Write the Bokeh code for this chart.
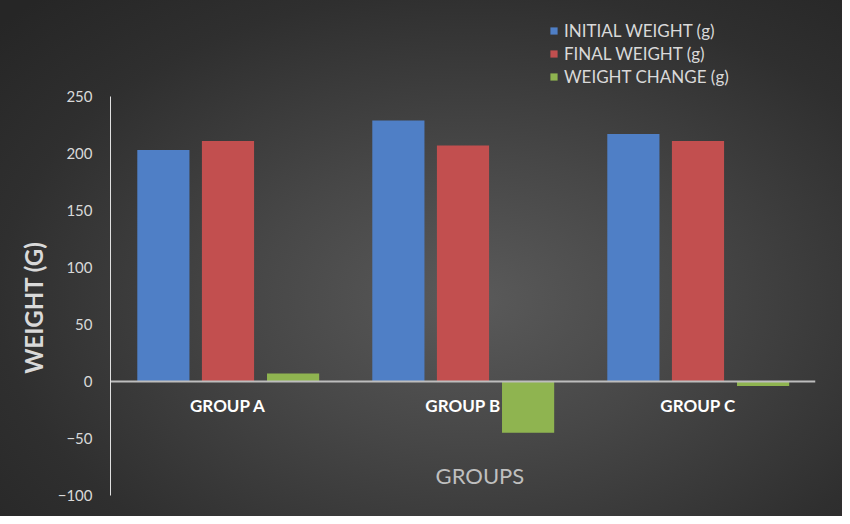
from bokeh.plotting import figure
from bokeh.models import ColumnDataSource, Range1d, FixedTicker, FactorRange, Legend
from bokeh.layouts import column
from bokeh.transform import dodge
from bokeh.embed import file_html
from bokeh.resources import INLINE

groups = ["GROUP A", "GROUP B", "GROUP C"]
initial_weight = [203, 229, 217]
final_weight = [211, 207, 211]
weight_change = [7, -45, -4]
y_ticks = [-100, -50, 0, 50, 100, 150, 200, 250]
series_names = ["INITIAL WEIGHT (g)", "FINAL WEIGHT (g)", "WEIGHT CHANGE (g)"]
series_cols = ["initial", "final", "change"]
series_colors = ["#4f7fc6", "#c24f4f", "#8fb450"]
offsets = [-0.275, 0.0, 0.277]

src = ColumnDataSource(dict(groups=groups, initial=initial_weight,
                            final=final_weight, change=weight_change))

NB = "\u00a0"

# main chart
p = figure(x_range=FactorRange(*groups, range_padding=0), y_range=Range1d(-100, 250),
           width=842, height=429, output_backend="svg", toolbar_location=None,
           min_border_left=110, min_border_right=27, min_border_top=9, min_border_bottom=21,
           background_fill_color=None, border_fill_color=None, outline_line_color=None)

w = 0.222
for col, colr, off in zip(series_cols, series_colors, offsets):
    p.vbar(x=dodge("groups", off, range=p.x_range), top=col, width=w, source=src,
           fill_color=colr, line_color=None)

p.grid.visible = False

ya = p.yaxis[0]
ya.ticker = FixedTicker(ticks=y_ticks)
ya.axis_line_color = "#e0e0e0"
ya.axis_line_width = 1
ya.major_tick_line_color = None
ya.minor_tick_line_color = None
ya.major_tick_out = 0
ya.minor_tick_out = 0
ya.major_label_standoff = 18
ya.major_label_text_font = "Lato"
ya.major_label_text_font_size = "15px"
ya.major_label_text_color = "#d9d9d9"
ya.axis_label = "WEIGHT (G)" + NB * 4
ya.axis_label_text_font = "Lato"
ya.axis_label_text_font_style = "bold"
ya.axis_label_text_font_size = "24px"
ya.axis_label_text_color = "#d9d9d9"
ya.axis_label_standoff = 7

xa = p.xaxis[0]
xa.fixed_location = 0
xa.axis_line_color = "#bdbdbd"
xa.axis_line_width = 2
xa.major_tick_line_color = None
xa.minor_tick_line_color = None
xa.major_tick_out = 0
xa.major_label_standoff = 13
xa.major_label_text_font = "Lato"
xa.major_label_text_font_style = "bold"
xa.major_label_text_font_size = "17px"
xa.major_label_text_color = "#ffffff"
xa.axis_label = NB * 6 + "GROUPS"
xa.axis_label_text_font = "Lato"
xa.axis_label_text_font_style = "normal"
xa.axis_label_text_font_size = "22px"
xa.axis_label_text_color = "#bfbfbf"
xa.axis_label_standoff = 43

# legend strip above the chart
pl = figure(x_range=FactorRange(*groups), y_range=Range1d(-100, 250),
            width=842, height=87, output_backend="svg", toolbar_location=None,
            min_border=0, background_fill_color=None, border_fill_color=None,
            outline_line_color=None)
pl.axis.visible = False
pl.grid.visible = False
items = []
for name, col, colr in zip(series_names, series_cols, series_colors):
    r = pl.vbar(x="groups", top=col, width=0.2, source=src, fill_color=colr,
                line_color=None, visible=False)
    items.append((name, [r]))

lg = Legend(items=items, location=(439, 0))
lg.background_fill_alpha = 0
lg.border_line_color = None
lg.inactive_fill_alpha = 0
lg.padding = 0
lg.margin = 0
lg.glyph_width = 9
lg.glyph_height = 9
lg.label_standoff = 6
lg.spacing = 2
lg.label_height = 16
lg.label_text_font = "Lato"
lg.label_text_font_size = "17px"
lg.label_text_color = "#d9d9d9"
pl.add_layout(lg, "center")

layout = column(pl, p, spacing=0,
                styles={"background": "radial-gradient(ellipse 75% 80% at 56% 58%, #5a5a5a 0%, #474747 35%, #2f2f2f 75%, #262626 100%)"})

open("out.html", "w").write(file_html(layout, INLINE))
